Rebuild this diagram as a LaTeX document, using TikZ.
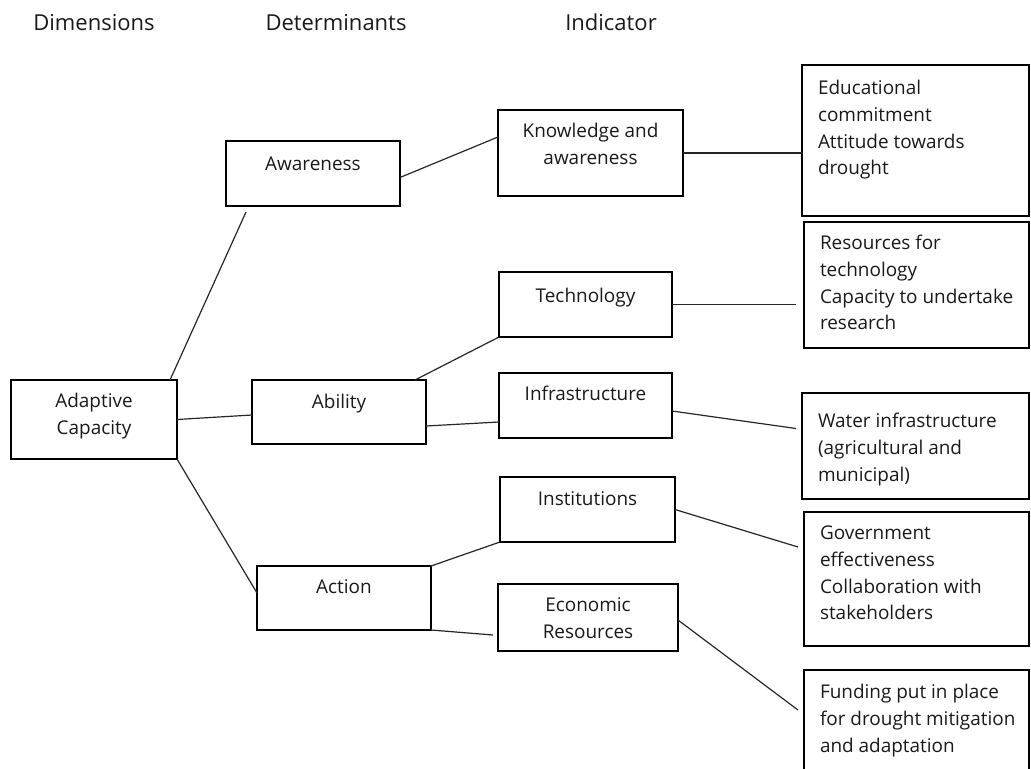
\documentclass[tikz,border=0pt]{standalone}
\usepackage{fontspec}
\setmainfont{Open Sans}
\usetikzlibrary{calc}

% one unit = one pixel of the 1031 x 768 canvas
\newdimen\px \px=0.75pt
% centred box text: width, height, top padding, lines
\newcommand\ctext[4]{\parbox[c][#2\px][t]{#1\px}{\centering\vspace*{#3\px}\strut #4}}
% left-aligned box text: width, height, top padding, lines
\newcommand\ltext[4]{\parbox[c][#2\px][t]{#1\px}{\raggedright\leftskip=16\px\vspace*{#3\px}\strut #4}}

\tikzset{
  cell/.style={draw=black, line width=1pt, inner sep=0pt, outer sep=0pt,
    anchor=north west, font=\fontsize{14.2}{20}\selectfont, text=black!90},
  hdr/.style={anchor=base, inner sep=0pt, font=\fontsize{16.5}{18}\selectfont, text=black!90},
  link/.style={draw=black!85, line width=0.9pt},
}

\begin{document}
\begin{tikzpicture}[x=0.75pt, y=-0.75pt]
\useasboundingbox (0,0) rectangle (1031,768);
\clip (0,0) rectangle (1031,768);

% column headings
\node[hdr] (hdim) at (94,30) {Dimensions};
\node[hdr] (hdet) at (336,30) {Determinants};
\node[hdr] (hind) at (611,30) {Indicator};

% dimension
\node[cell] (adapt) at (11,380) {\ctext{166}{79}{9}{Adaptive\\Capacity}};

% determinants
\node[cell] (aware)   at (226,141) {\ctext{174}{65}{11}{Awareness}};
\node[cell] (ability) at (252,380) {\ctext{174}{64}{10}{Ability}};
\node[cell] (action)  at (257,566) {\ctext{174}{64}{9}{Action}};

% indicators
\node[cell] (know)  at (498,110) {\ctext{185}{86}{9}{Knowledge and\\awareness}};
\node[cell] (tech)  at (499,272) {\ctext{173}{65}{12}{Technology}};
\node[cell] (infra) at (499,373) {\ctext{173}{65}{9}{Infrastructure}};
\node[cell] (inst)  at (500,477) {\ctext{175}{65}{10}{Institutions}};
\node[cell] (econ)  at (498,584) {\ctext{180}{67}{9}{Economic\\Resources}};

% measures
\node[cell] (edu)   at (802,65)  {\ltext{227}{151}{11}{Educational\\commitment\\Attitude towards\\drought}};
\node[cell] (res)   at (804,222) {\ltext{225}{126}{9}{Resources for\\technology\\Capacity to undertake\\research}};
\node[cell] (water) at (802,393) {\ltext{227}{106}{16}{Water infrastructure\\(agricultural and\\municipal)}};
\node[cell] (gov)   at (804,512) {\ltext{225}{134}{9}{Government\\effectiveness\\Collaboration with\\stakeholders}};
\node[cell] (fund)  at (804,670) {\ltext{225}{130}{10}{Funding put in place\\for drought mitigation\\and adaptation}};

% dimension to determinants
\draw[link] ($(adapt.north east)+(-7,0)$) -- ($(aware.south west)+(20,6)$);
\draw[link] (adapt.east) -- ($(ability.west)+(0,3)$);
\draw[link] (adapt.south east) -- ($(action.west)+(0,-5)$);

% determinants to indicators
\draw[link] ($(aware.east)+(0,4)$) -- ($(know.west)+(0,-16)$);
\draw[link] ($(ability.north east)+(-11,0)$) -- (tech.south west);
\draw[link] ($(ability.east)+(0,14)$) -- ($(infra.west)+(0,16.5)$);
\draw[link] (action.north east) -- (inst.south west);
\draw[link] (action.south east) -- ($(econ.west)+(-5,17.5)$);

% indicators to measures
\draw[link] (know.east) -- (know.east -| edu.west);
\draw[link] (tech.east) -- ($(tech.east -| res.west)+(-8,0)$);
\draw[link] ($(infra.east)+(0,5.5)$) -- ($(water.west)+(-6,-17.5)$);
\draw[link] (inst.east) -- ($(gov.west)+(-6,-32)$);
\draw[link] ($(econ.east)+(0,2.5)$) -- ($(fund.west)+(-6,-25)$);
\end{tikzpicture}
\end{document}
